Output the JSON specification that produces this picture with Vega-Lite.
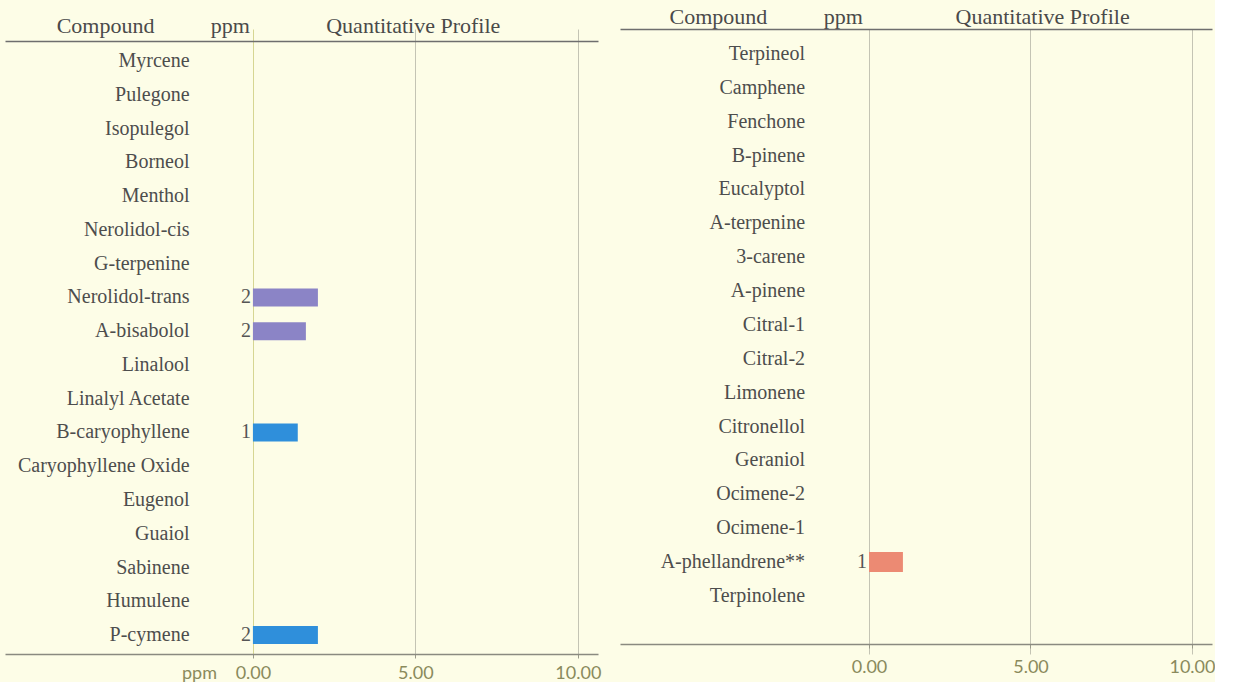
{
  "$schema": "https://vega.github.io/schema/vega-lite/v6.json",
  "background": "#fdfde7",
  "padding": {"left": 5, "top": 5, "right": 0, "bottom": 0},
  "bounds": "flush",
  "spacing": 22,
  "datasets": {
    "left": [
      {"compound": "Myrcene", "ppm": null, "class": null},
      {"compound": "Pulegone", "ppm": null, "class": null},
      {"compound": "Isopulegol", "ppm": null, "class": null},
      {"compound": "Borneol", "ppm": null, "class": null},
      {"compound": "Menthol", "ppm": null, "class": null},
      {"compound": "Nerolidol-cis", "ppm": null, "class": null},
      {"compound": "G-terpenine", "ppm": null, "class": null},
      {"compound": "Nerolidol-trans", "ppm": 2.0, "class": "A"},
      {"compound": "A-bisabolol", "ppm": 1.63, "class": "A"},
      {"compound": "Linalool", "ppm": null, "class": null},
      {"compound": "Linalyl Acetate", "ppm": null, "class": null},
      {"compound": "B-caryophyllene", "ppm": 1.38, "class": "B"},
      {"compound": "Caryophyllene Oxide", "ppm": null, "class": null},
      {"compound": "Eugenol", "ppm": null, "class": null},
      {"compound": "Guaiol", "ppm": null, "class": null},
      {"compound": "Sabinene", "ppm": null, "class": null},
      {"compound": "Humulene", "ppm": null, "class": null},
      {"compound": "P-cymene", "ppm": 2.0, "class": "B"}
    ],
    "right": [
      {"compound": "Terpineol", "ppm": null, "class": null},
      {"compound": "Camphene", "ppm": null, "class": null},
      {"compound": "Fenchone", "ppm": null, "class": null},
      {"compound": "B-pinene", "ppm": null, "class": null},
      {"compound": "Eucalyptol", "ppm": null, "class": null},
      {"compound": "A-terpenine", "ppm": null, "class": null},
      {"compound": "3-carene", "ppm": null, "class": null},
      {"compound": "A-pinene", "ppm": null, "class": null},
      {"compound": "Citral-1", "ppm": null, "class": null},
      {"compound": "Citral-2", "ppm": null, "class": null},
      {"compound": "Limonene", "ppm": null, "class": null},
      {"compound": "Citronellol", "ppm": null, "class": null},
      {"compound": "Geraniol", "ppm": null, "class": null},
      {"compound": "Ocimene-2", "ppm": null, "class": null},
      {"compound": "Ocimene-1", "ppm": null, "class": null},
      {"compound": "A-phellandrene**", "ppm": 1.05, "class": "C"},
      {"compound": "Terpinolene", "ppm": null, "class": null}
    ]
  },
  "config": {
    "view": {"stroke": null},
    "axis": {"title": null, "labelOverlap": false, "labelBound": false}
  },
  "hconcat": [
    {
      "width": 593,
      "height": 625,
      "data": {"name": "left"},
      "resolve": {"axis": {"x": "independent"}},
      "encoding": {
        "y": {"field": "compound", "type": "nominal", "sort": null, "axis": null,
              "scale": {"paddingInner": 0.467, "paddingOuter": 0.487, "align": 0.699}}
      },
      "layer": [
        {
          "mark": {"type": "text", "align": "right", "baseline": "middle", "font": "Liberation Serif", "fontSize": 20, "color": "#4d4d4d"},
          "encoding": {
            "x": {"datum": -1.95, "type": "quantitative",
                  "scale": {"domain": [-7.63, 10.62], "nice": false, "zero": false},
                  "axis": {"orient": "top", "values": [-4.55, -0.71, 4.92],
                           "labelExpr": "datum.value < -2 ? 'Compound' : datum.value < 0 ? 'ppm' : 'Quantitative Profile'",
                           "ticks": false, "grid": false, "domainColor": "#6e6e6e", "domainWidth": 1.5, "offset": -12,
                           "labelFont": "Liberation Serif", "labelFontSize": 22, "labelColor": "#4a4a4a", "labelPadding": 4}},
            "text": {"field": "compound"}
          }
        },
        {
          "transform": [{"filter": "isValid(datum.ppm)"}],
          "mark": {"type": "bar", "height": 18},
          "encoding": {
            "x": {"field": "ppm", "type": "quantitative",
                  "axis": {"orient": "bottom", "values": [-1.66, 0, 5, 10],
                           "labelExpr": "datum.value < 0 ? 'ppm' : format(datum.value, '.2f')",
                           "grid": true,
                           "gridColor": {"condition": {"test": "datum.value === 0", "value": "#d6d692"}, "value": "#c4c4b4"},
                           "gridOpacity": {"condition": {"test": "datum.value < 0", "value": 0}, "value": 1},
                           "tickOpacity": {"condition": {"test": "datum.value < 0", "value": 0}, "value": 1},
                           "tickSize": 4, "tickColor": "#9a9a8a",
                           "domainColor": "#8a8a80", "domainWidth": 1.5,
                           "labelFont": "Lato", "labelFontSize": 18, "labelColor": "#8a8a5c", "labelPadding": 6}},
            "color": {"field": "class", "type": "nominal", "legend": null,
                      "scale": {"domain": ["A", "B", "C"], "range": ["#8b84c6", "#2f8fdb", "#ec8a73"]}}
          }
        },
        {
          "transform": [{"filter": "isValid(datum.ppm)"}],
          "mark": {"type": "text", "align": "right", "baseline": "middle", "dx": -2, "font": "Liberation Serif", "fontSize": 20, "color": "#555555"},
          "encoding": {
            "x": {"datum": 0, "type": "quantitative", "axis": null},
            "text": {"field": "ppm", "type": "quantitative", "format": ".0f"}
          }
        }
      ]
    },
    {
      "width": 592,
      "height": 625,
      "data": {"name": "right"},
      "resolve": {"axis": {"x": "independent"}},
      "encoding": {
        "y": {"field": "compound", "type": "nominal", "sort": null, "axis": null,
              "scale": {"paddingInner": 0.439, "paddingOuter": 0.945, "align": 0.242}}
      },
      "layer": [
        {
          "mark": {"type": "text", "align": "right", "baseline": "middle", "font": "Liberation Serif", "fontSize": 20, "color": "#4d4d4d"},
          "encoding": {
            "x": {"datum": -1.98, "type": "quantitative",
                  "scale": {"domain": [-7.71, 10.62], "nice": false, "zero": false},
                  "axis": {"orient": "top", "values": [-4.68, -0.81, 5.36],
                           "labelExpr": "datum.value < -2 ? 'Compound' : datum.value < 0 ? 'ppm' : 'Quantitative Profile'",
                           "ticks": false, "grid": false, "domainColor": "#6e6e6e", "domainWidth": 1.5,
                           "labelFont": "Liberation Serif", "labelFontSize": 22, "labelColor": "#4a4a4a", "labelPadding": 1}},
            "text": {"field": "compound"}
          }
        },
        {
          "transform": [{"filter": "isValid(datum.ppm)"}],
          "mark": {"type": "bar", "height": 20},
          "encoding": {
            "x": {"field": "ppm", "type": "quantitative",
                  "axis": {"orient": "bottom", "values": [0, 5, 10], "format": ".2f",
                           "grid": true, "gridColor": "#c4c4b4",
                           "tickSize": 4, "tickColor": "#9a9a8a", "offset": -10,
                           "domainColor": "#8a8a80", "domainWidth": 1.5,
                           "labelFont": "Lato", "labelFontSize": 18, "labelColor": "#8a8a5c", "labelPadding": 10}},
            "color": {"field": "class", "type": "nominal", "legend": null,
                      "scale": {"domain": ["A", "B", "C"], "range": ["#8b84c6", "#2f8fdb", "#ec8a73"]}}
          }
        },
        {
          "transform": [{"filter": "isValid(datum.ppm)"}],
          "mark": {"type": "text", "align": "right", "baseline": "middle", "dx": -2, "font": "Liberation Serif", "fontSize": 20, "color": "#555555"},
          "encoding": {
            "x": {"datum": 0, "type": "quantitative", "axis": null},
            "text": {"field": "ppm", "type": "quantitative", "format": ".0f"}
          }
        }
      ]
    }
  ]
}
